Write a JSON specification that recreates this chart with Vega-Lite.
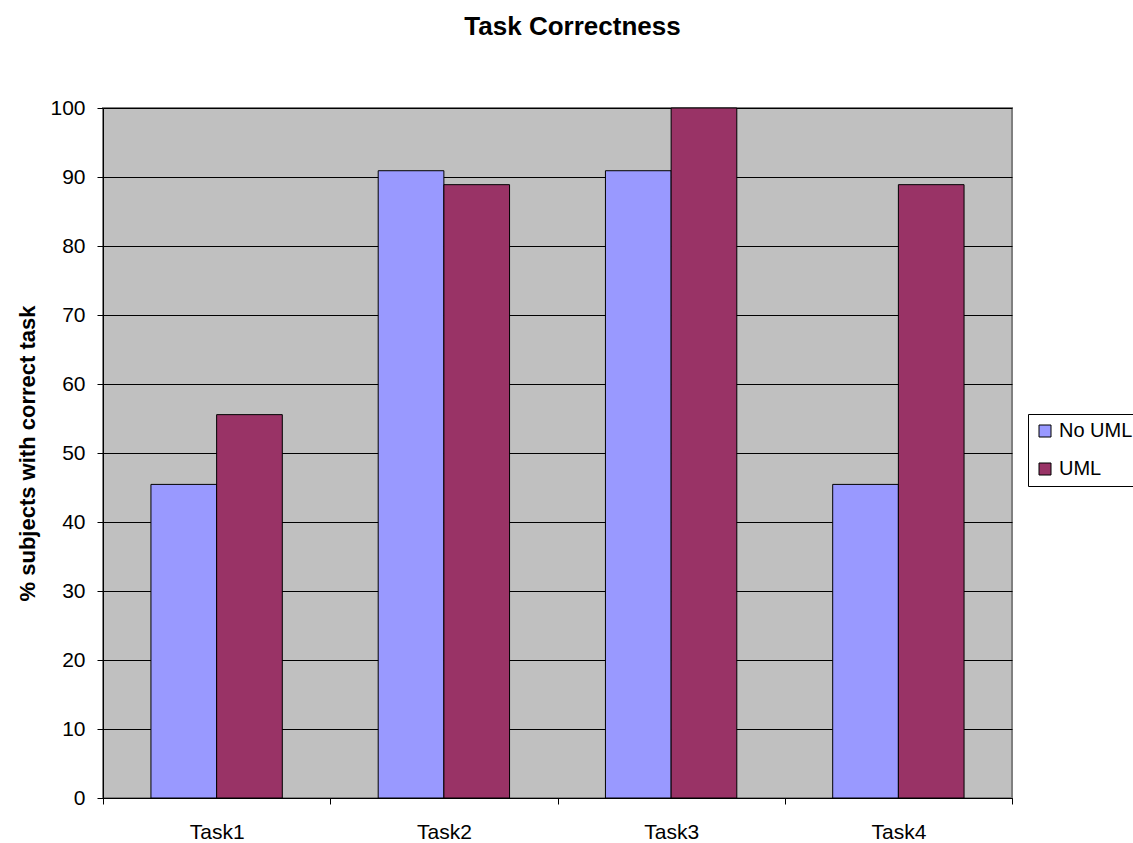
{
  "$schema": "https://vega.github.io/schema/vega-lite/v6.json",
  "width": 909,
  "height": 690,
  "autosize": {"type": "none"},
  "padding": {"left": 103, "top": 108, "right": 121, "bottom": 45},
  "background": "white",
  "title": {
    "text": "Task Correctness",
    "font": "Liberation Sans",
    "fontSize": 26,
    "fontWeight": "bold",
    "color": "black",
    "anchor": "middle",
    "dx": 15,
    "offset": 57
  },
  "data": {
    "values": [
      {"task": "Task1", "group": "No UML", "value": 45.45},
      {"task": "Task1", "group": "UML", "value": 55.56},
      {"task": "Task2", "group": "No UML", "value": 90.91},
      {"task": "Task2", "group": "UML", "value": 88.89},
      {"task": "Task3", "group": "No UML", "value": 90.91},
      {"task": "Task3", "group": "UML", "value": 100},
      {"task": "Task4", "group": "No UML", "value": 45.45},
      {"task": "Task4", "group": "UML", "value": 88.89}
    ]
  },
  "mark": {"type": "bar", "stroke": "black", "strokeWidth": 1},
  "encoding": {
    "x": {
      "field": "task",
      "type": "nominal",
      "scale": {"paddingInner": 0, "paddingOuter": 0},
      "axis": {
        "title": null,
        "labelAngle": 0,
        "labelFont": "Liberation Sans",
        "labelFontSize": 21,
        "labelColor": "black",
        "labelPadding": 17,
        "tickBand": "extent",
        "tickColor": "black",
        "tickSize": 6,
        "domainColor": "black",
        "grid": false
      }
    },
    "xOffset": {
      "field": "group",
      "type": "nominal",
      "scale": {"paddingInner": 0, "paddingOuter": 0.73}
    },
    "y": {
      "field": "value",
      "type": "quantitative",
      "scale": {"domain": [0, 100], "nice": false},
      "axis": {
        "title": "% subjects with correct task",
        "titleFont": "Liberation Sans",
        "titleFontSize": 22,
        "titleFontWeight": "bold",
        "titleColor": "black",
        "titlePadding": 10,
        "values": [0, 10, 20, 30, 40, 50, 60, 70, 80, 90, 100],
        "labelFont": "Liberation Sans",
        "labelFontSize": 21,
        "labelColor": "black",
        "labelPadding": 12,
        "tickColor": "black",
        "tickSize": 6,
        "domainColor": "black",
        "grid": true,
        "gridColor": "black",
        "gridOpacity": 1
      }
    },
    "color": {
      "field": "group",
      "type": "nominal",
      "scale": {"domain": ["No UML", "UML"], "range": ["#9999FF", "#993366"]},
      "legend": {
        "title": null,
        "orient": "none",
        "legendX": 925,
        "legendY": 306,
        "symbolType": "square",
        "symbolSize": 144,
        "symbolStrokeColor": "black",
        "symbolStrokeWidth": 1,
        "symbolOpacity": 1,
        "labelFont": "Liberation Sans",
        "labelFontSize": 20,
        "labelColor": "black",
        "labelOffset": 4,
        "rowPadding": 18,
        "padding": 7,
        "strokeColor": "black",
        "fillColor": "white"
      }
    }
  },
  "config": {
    "view": {"fill": "#C0C0C0", "stroke": "#808080", "strokeWidth": 2},
    "axis": {"domainWidth": 1, "tickWidth": 1}
  }
}
